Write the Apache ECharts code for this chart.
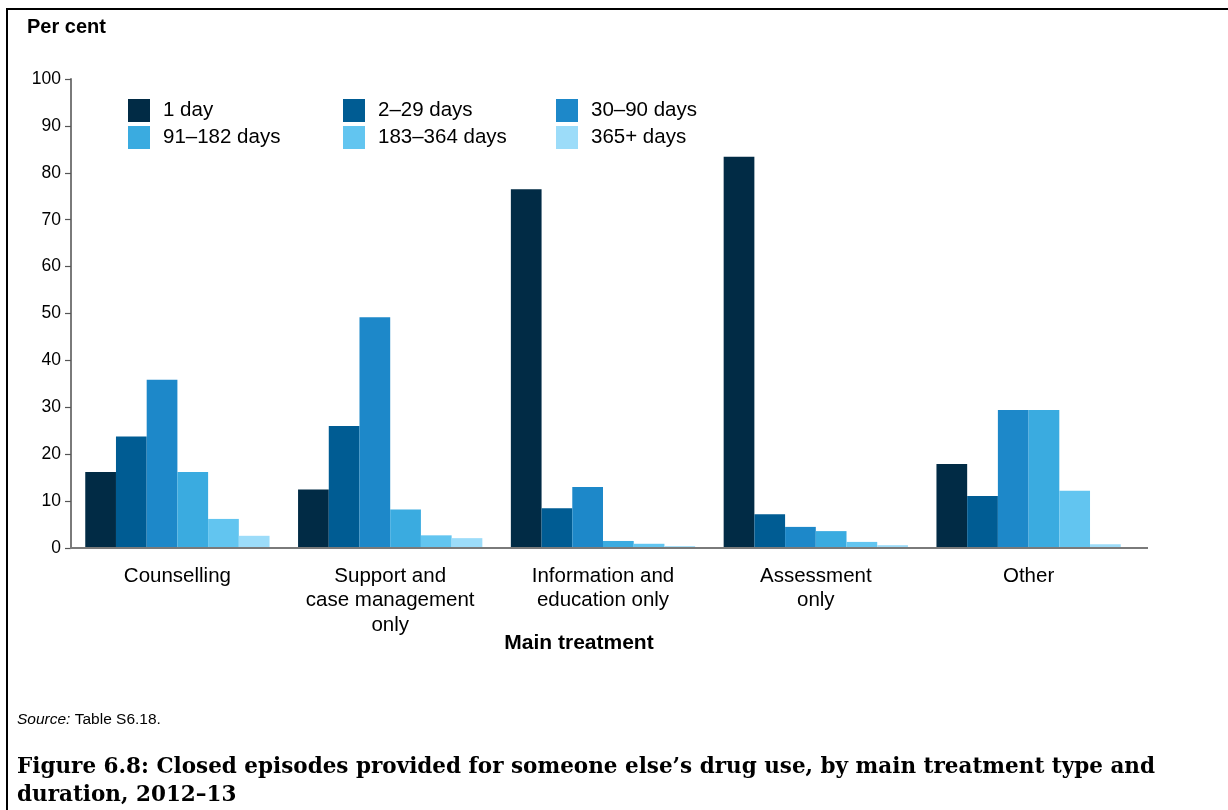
<!DOCTYPE html>
<html>
<head>
<meta charset="utf-8">
<script src="https://cdn.jsdelivr.net/npm/echarts@6/dist/echarts.min.js"></script>
<style>html,body{margin:0;padding:0;background:#fff;}#c{width:1228px;height:810px;}</style>
</head>
<body>
<div id="c"></div>
<script>
const categories = ['Counselling', 'Support and\ncase management\nonly', 'Information and\neducation only', 'Assessment\nonly', 'Other'];
const seriesNames = ['1 day', '2–29 days', '30–90 days', '91–182 days', '183–364 days', '365+ days'];
const day1 = [16.2, 12.5, 76.5, 83.4, 17.9];
const days2to29 = [23.8, 26.0, 8.5, 7.2, 11.1];
const days30to90 = [35.9, 49.2, 13.0, 4.5, 29.4];
const days91to182 = [16.2, 8.2, 1.5, 3.6, 29.4];
const days183to364 = [6.2, 2.7, 0.9, 1.3, 12.2];
const days365plus = [2.6, 2.1, 0.4, 0.6, 0.8];
const yTicks = [0, 10, 20, 30, 40, 50, 60, 70, 80, 90, 100];

const seriesData = [day1, days2to29, days30to90, days91to182, days183to364, days365plus];
const colors = ['#012B45', '#005C93', '#1D88C9', '#3AABE0', '#62C5F0', '#9CDCF9'];

const font = 'Liberation Sans, Arial, sans-serif';
const legendPos = [[128, 99], [343, 99], [556, 99], [128, 126], [343, 126], [556, 126]];

const chart = echarts.init(document.getElementById('c'), null, {renderer: 'canvas'});
chart.setOption({
  animation: false,
  backgroundColor: '#fff',
  textStyle: {fontFamily: font},
  grid: {left: 71, right: 93, top: 79, bottom: 262, containLabel: false},
  legend: seriesNames.map((n, i) => ({
    data: [n], left: legendPos[i][0], top: legendPos[i][1],
    itemWidth: 22, itemHeight: 23, itemGap: 0, padding: 0,
    icon: 'rect',
    textStyle: {fontFamily: font, fontSize: 20.5, color: '#000', padding: [0, 0, 0, 8]}
  })),
  xAxis: {
    type: 'category', data: categories,
    axisLine: {show: false},
    axisTick: {show: false},
    axisLabel: {interval: 0, hideOverlap: false, fontFamily: font, fontSize: 20.5, color: '#000', lineHeight: 24.5, margin: 16}
  },
  yAxis: {
    type: 'value', min: yTicks[0], max: yTicks[yTicks.length - 1], interval: 10,
    splitLine: {show: false},
    axisLine: {show: true, lineStyle: {color: '#7a7a7a', width: 2}},
    axisTick: {show: true, length: 6, lineStyle: {color: '#555', width: 1.2}},
    axisLabel: {fontFamily: font, fontSize: 17.5, color: '#000', margin: 10}
  },
  series: seriesNames.map((n, i) => ({
    name: n, type: 'bar', data: seriesData[i],
    barGap: '0%', barCategoryGap: '13.4%',
    itemStyle: {color: colors[i]}
  })),
  graphic: [
    {type: 'rect', shape: {x: 6, y: 8, width: 1222, height: 2}, style: {fill: '#000'}, silent: true},
    {type: 'rect', shape: {x: 6, y: 8, width: 2, height: 802}, style: {fill: '#000'}, silent: true},
    {type: 'line', shape: {x1: 70, y1: 548, x2: 1148, y2: 548}, style: {stroke: '#7a7a7a', lineWidth: 2}, z: 10, silent: true},
    {type: 'text', x: 27, y: 27, style: {text: 'Per cent', font: 'bold 20px ' + font, fill: '#000', verticalAlign: 'middle'}},
    {type: 'text', x: 579, y: 643, style: {text: 'Main treatment', font: 'bold 21px ' + font, fill: '#000', align: 'center', verticalAlign: 'middle'}},
    {type: 'text', x: 17, y: 720, style: {
      text: '{i|Source:} Table S6.18.',
      rich: {i: {fontStyle: 'italic', fontSize: 15.5, fontFamily: font}},
      font: '15.5px ' + font, fill: '#000', verticalAlign: 'middle'}},
    {type: 'text', x: 17, y: 781, style: {
      text: 'Figure 6.8: Closed episodes provided for someone else’s drug use, by main treatment type and\nduration, 2012–13',
      font: 'bold 21.5px DejaVu Serif, serif', fill: '#000', lineHeight: 28, verticalAlign: 'middle'}}
  ]
});
</script>
</body>
</html>
